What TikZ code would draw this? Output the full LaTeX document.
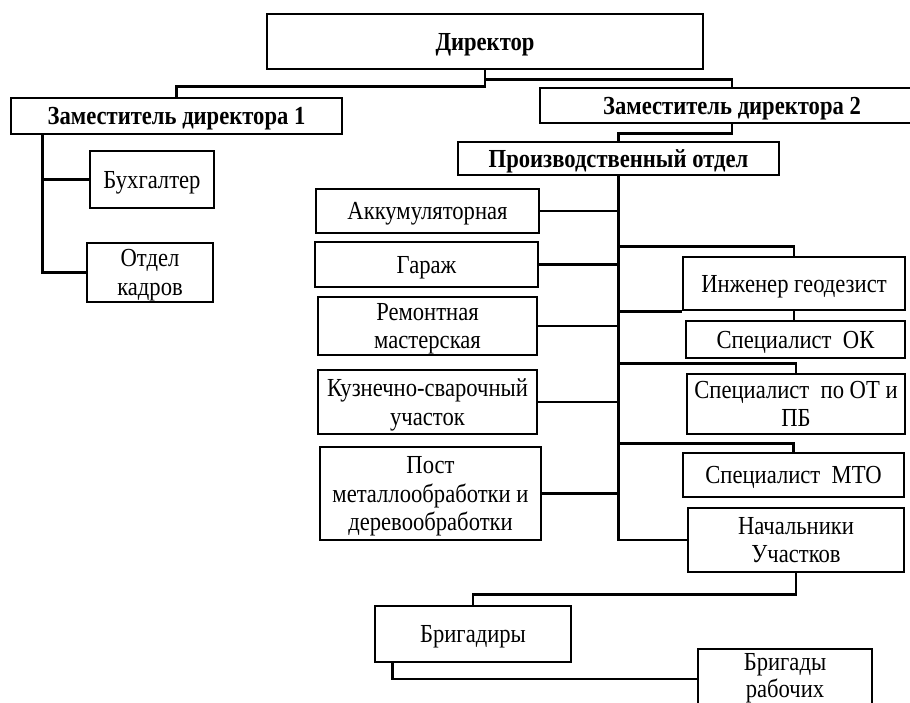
\documentclass[tikz,border=0pt]{standalone}
\usepackage{fontspec}
\setmainfont[FakeStretch=0.87]{Liberation Serif}
\usetikzlibrary{calc}
\tikzset{
  box/.style={draw=black, line width=2.6pt, fill=white, align=center, inner sep=1pt,
    text depth=0pt, font=\fontsize{26}{28.5}\selectfont},
  bbox/.style={box, font=\fontsize{26}{28.5}\selectfont\bfseries},
  conn/.style={draw=black, line width=2.6pt}
}
\begin{document}
\begin{tikzpicture}[x=1pt,y=-1pt]
\useasboundingbox (0,0) rectangle (910,702);
\fill[white] (0,0) rectangle (910,702);

% nodes
\node[bbox, minimum width=436pt, minimum height=55pt] (dir) at (485,41.5) {Директор};
\node[bbox, minimum width=331pt, minimum height=36pt] (z1) at (176.5,116) {Заместитель директора 1};
\node[bbox, minimum width=384pt, minimum height=35pt] (z2) at (732,105.5) {Заместитель директора 2};
\node[bbox, minimum width=321pt, minimum height=33pt] (po) at (618.5,158.5) {Производственный отдел};

\node[box, minimum width=124pt, minimum height=57pt] (buh) at (152,179.5) {Бухгалтер};
\node[box, minimum width=126pt, minimum height=59pt] (okd) at (150,272.5) {Отдел\\кадров};

\node[box, minimum width=223pt, minimum height=44pt] (akk) at (427.5,211) {Аккумуляторная};
\node[box, minimum width=223pt, minimum height=45pt] (gar) at (426.5,264.5) {Гараж};
\node[box, minimum width=219pt, minimum height=58pt] (rem) at (427.5,326) {Ремонтная\\мастерская};
\node[box, minimum width=219pt, minimum height=64pt] (kuz) at (427.5,402) {Кузнечно-сварочный\\участок};
\node[box, minimum width=221pt, minimum height=93pt] (post) at (430.5,493.5) {Пост\\металлообработки и\\деревообработки};

\node[box, minimum width=222pt, minimum height=53pt] (ing) at (794,283.5) {Инженер геодезист};
\node[box, minimum width=219pt, minimum height=37pt] (spok) at (795.5,339.5) {Специалист\ \ ОК};
\node[box, minimum width=218pt, minimum height=60pt] (spot) at (796,404) {Специалист\ \ по ОТ и\\ПБ};
\node[box, minimum width=221pt, minimum height=44pt] (mto) at (793.5,475) {Специалист\ \ МТО};
\node[box, minimum width=216pt, minimum height=64pt] (nach) at (796,540) {Начальники\\Участков};

\node[box, minimum width=196pt, minimum height=56pt] (brig) at (473,634) {Бригадиры};
\node[box, minimum width=174pt, minimum height=60pt, text depth=7pt,
      font=\fontsize{26}{27}\selectfont] (brr) at (785,679) {Бригады\\рабочих};

% connectors
\draw[conn] (dir.south) -- ++(0,9) -| (z2.north);
\draw[conn] (dir.south) -- ++(0,16) -| (z1.north);
\draw[conn] (z2.south) -- ++(0,9) -| (po.north);
\draw[conn] ([xshift=33pt]z1.south west) |- (buh.west);
\draw[conn] ([xshift=33pt]z1.south west) |- (okd.west);

\draw[conn] (po.south) |- (nach.west);
\foreach \n in {akk,gar,rem,kuz,post}{
  \draw[conn] (\n.east) -- (\n.east -| po.south);
}
\draw[conn] (ing.north) -- ++(0,-9) coordinate (t1) -- (t1 -| po.south);
\draw[conn] (ing.south west) -- (ing.south west -| po.south);
\draw[conn] (ing.south) -- (ing.south |- spok.north);
\draw[conn] (spot.north) -- ++(0,-9) coordinate (t2) -- (t2 -| po.south);
\draw[conn] (mto.north) -- ++(0,-8) coordinate (t3) -- (t3 -| po.south);
\draw[conn] (nach.south) -- ++(0,21) -| (brig.north);
\draw[conn] ([xshift=19pt]brig.south west) |- (brr.west);
\end{tikzpicture}
\end{document}
